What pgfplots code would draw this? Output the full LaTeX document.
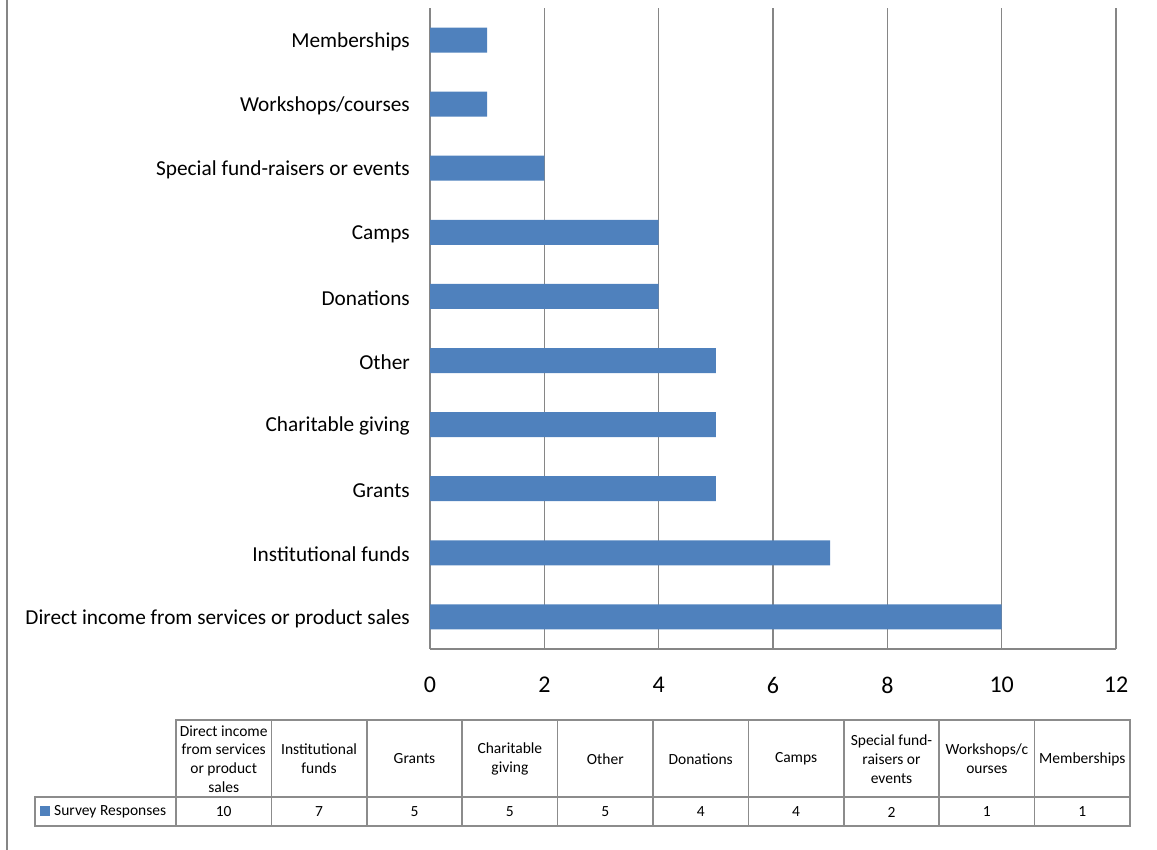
\documentclass[border=0pt]{standalone}
\usepackage{pgfplots}
\pgfplotsset{compat=1.18}
\usepackage{fontspec}
\setmainfont{Carlito}
\definecolor{barblue}{HTML}{4F81BD}
\definecolor{gridgray}{HTML}{868686}
\definecolor{tabgray}{HTML}{8C8C8C}
\begin{document}
\begin{tikzpicture}
\path[use as bounding box] (0,0) rectangle (1157bp,850bp);
\draw[gridgray, line width=2bp] (7bp,0) -- (7bp,850bp);
\begin{axis}[
  at={(430bp,201bp)}, anchor=south west,
  scale only axis, width=686bp, height=641bp,
  xmin=0, xmax=12, ymin=0.5, ymax=10.5,
  xtick={0,2,...,12},
  ytick={1,...,10},
  yticklabels={Direct income from services or product sales, Institutional funds, Grants, Charitable giving, Other, Donations, Camps, Special fund-raisers or events, Workshops/courses, Memberships},
  axis x line=bottom, axis y line=left,
  axis line style={gridgray, line width=1.5bp, -},
  xmajorgrids, major grid style={gridgray, line width=1.5bp},
  major tick length=0pt,
  /pgf/number format/assume math mode=true,
  xticklabel style={font=\fontsize{24bp}{28bp}\selectfont, inner sep=0pt, yshift=-28bp},
  yticklabel style={font=\fontsize{21.3bp}{25bp}\selectfont, inner sep=0pt, xshift=-20bp, yshift=-1.5bp},
  xbar, bar width=25bp,
]
\addplot[fill=barblue, draw=none] coordinates {(10,1) (7,2) (5,3) (5,4) (5,5) (4,6) (4,7) (2,8) (1,9) (1,10)};
\end{axis}
% data table below the chart
\begin{scope}[tabgray, line width=1.5bp]
  \draw (176bp,130bp) rectangle (1130bp,24bp);
  \draw (35bp,53bp) rectangle (176bp,24bp);
  \draw (176bp,53bp) -- (1130bp,53bp);
  \foreach \i in {1,...,9} { \draw (176bp+\i*95.4bp,130bp) -- (176bp+\i*95.4bp,24bp); }
\end{scope}
\fill[barblue] (40bp,33.5bp) rectangle (50bp,43.5bp);
\node[anchor=west, inner sep=0pt, font=\fontsize{15.5bp}{18.7bp}\selectfont] at (54bp,38bp) {Survey Responses};
\foreach \lab/\val [count=\i from 0] in {{Direct income\\from services\\or product\\sales}/10, {Institutional\\funds}/7, Grants/5, {Charitable\\giving}/5, Other/5, Donations/4, Camps/4, {Special fund-\\raisers or\\events}/2, {Workshops/c\\ourses}/1, Memberships/1} {
  \node[align=center, inner sep=0pt, font=\fontsize{15.5bp}{18.7bp}\selectfont] at (176bp+\i*95.4bp+47.7bp,91bp) {\lab};
  \node[inner sep=0pt, font=\fontsize{15.5bp}{18.7bp}\selectfont] at (176bp+\i*95.4bp+47.7bp,38bp) {\val};
}
\end{tikzpicture}
\end{document}
